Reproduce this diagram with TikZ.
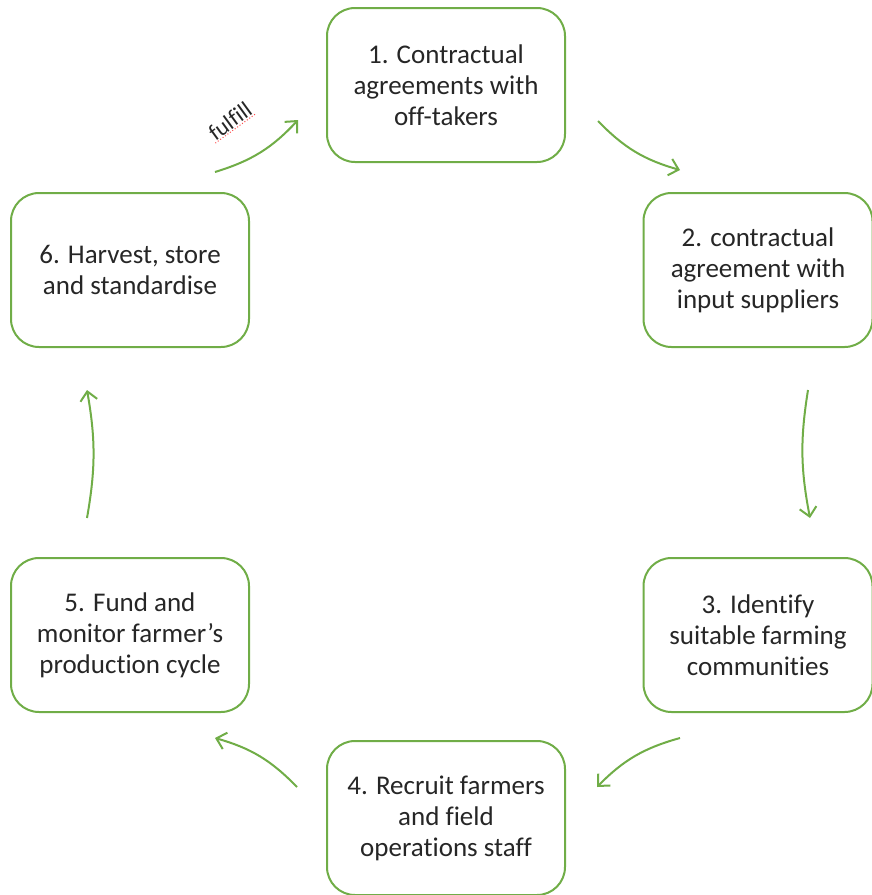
\documentclass[tikz,border=0pt]{standalone}
\usepackage{fontspec}
\setmainfont[Ligatures=NoCommon]{Carlito}
\usetikzlibrary{arrows.meta}
\definecolor{leaf}{HTML}{70AD47}
\definecolor{ink}{HTML}{262626}
\begin{document}
\begin{tikzpicture}[x=1pt,y=-1pt,
  stepbox/.style={draw=leaf, line width=2pt, rounded corners=28pt,
    minimum width=238pt, minimum height=154pt, align=center, text=ink,
    font=\fontsize{27}{31}\selectfont, inner sep=0pt},
  flow/.style={draw=leaf, line width=2pt,
    -{Straight Barb[length=9pt,width=17pt,line width=2pt]}}]
\useasboundingbox (0,0) rectangle (872,895);

% the six stages of the cycle
\node[stepbox] (s1) at (446,85) {1. Contractual\\agreements with\\off-takers};
\node[stepbox, minimum width=229pt] (s2) at (758,270) {2. contractual\\agreement with\\input suppliers};
\node[stepbox, minimum width=229pt] (s3) at (758,635) {3. Identify\\suitable farming\\communities};
\node[stepbox] (s4) at (446,818) {4. Recruit farmers\\and field\\operations staff};
\node[stepbox] (s5) at (130,635) {5. Fund and\\monitor farmer’s\\production cycle};
\node[stepbox] (s6) at (130,270) {6. Harvest, store\\and standardise};

% arrow end points between the stages
\coordinate (a61) at (215,172);  \coordinate (b61) at (298,120);
\coordinate (a12) at (598,121);  \coordinate (b12) at (680,170);
\coordinate (a23) at (808,390);  \coordinate (b23) at (810,518);
\coordinate (a34) at (680,738);  \coordinate (b34) at (597,787);
\coordinate (a45) at (297,787);  \coordinate (b45) at (215,738);
\coordinate (a56) at (87,518);   \coordinate (b56) at (87,390);

\draw[flow] (a61) to[bend right=15] (b61);
\draw[flow] (a12) to[bend right=15] (b12);
\draw[flow] (a23) to[bend right=10] (b23);
\draw[flow] (a34) to[bend right=15] (b34);
\draw[flow] (a45) to[bend right=15] (b45);
\draw[flow] (a56) to[bend right=10] (b56);

% label on the closing arrow, with its spell-check underline
\node[rotate=36, text=ink, font=\fontsize{23}{26}\selectfont, inner sep=1pt] (fl) at (230,121) {fulfill};
\draw[red!70, line width=1pt, dotted] (fl.south west) -- (fl.south east);
\end{tikzpicture}
\end{document}
